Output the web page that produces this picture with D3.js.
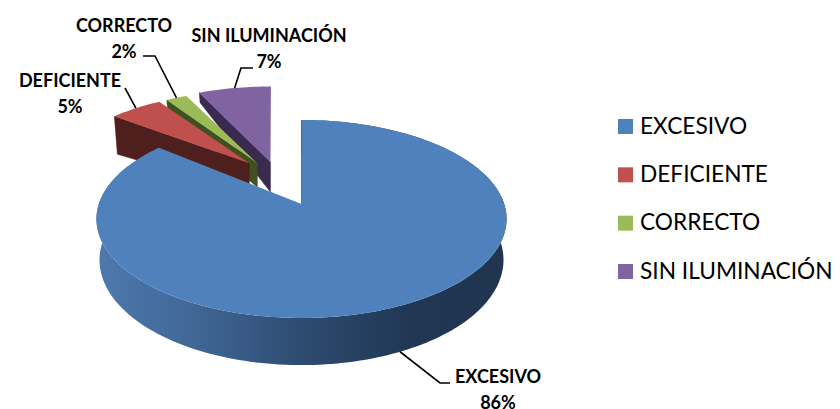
<!DOCTYPE html>
<html>
<head>
<meta charset="utf-8">
<script src="https://cdnjs.cloudflare.com/ajax/libs/d3/7.8.5/d3.min.js"></script>
<style>
html, body { margin: 0; padding: 0; background: #fff; overflow: hidden; }
text { font-family: Lato, "Open Sans", sans-serif; fill: #000; }
</style>
</head>
<body>
<div id="chart"></div>
<script>
var categories = ["EXCESIVO", "DEFICIENTE", "CORRECTO", "SIN ILUMINACIÓN"];
var values = [86, 5, 2, 7];
var colors = ["#4f81bd", "#c0504d", "#9bbb59", "#8064a2"];
var darkColors = ["#1f3550", "#4f1f1e", "#3f5021", "#3a2a50"];

// how far each slice is pulled out, in units of the pie radius
var explodeU = [0, -0.30, -0.258, -0.185];
var explodeV = [0, 0.415, 0.441, 0.49];
// the tips do not follow quite the same offset
var tipU = [0, -0.275, -0.233, -0.164];
var tipV = [0, 0.45, 0.45, 0.465];
// height of the cut wall at the outer corner and at the tip
var cornerDepth = [40, 38, 8, 10];
var tipDepth = [40, 30, 24, 30];

// label centre and leader elbow for each slice
var labelX = [498, 70, 124, 269];
var labelY = [376, 80, 25, 35];
var elbows = [[[440, 383], [450, 383]], [[125, 88]], [[155, 56], [143, 56]], [[241, 68], [253, 68]]];

var width = 840;
var height = 409;

var svg = d3.select("#chart")
	.append("svg")
	.attr("width", width)
	.attr("height", height);

// the pie lies on a tilted plane, so the far side is smaller than the near side
var cx = 301.5;
var cy = 204;
var rx = 202.7;
var ry = 96.7;
var k = 0.1515;
var depth = 40;
var bottomShrink = 0.985;

var project = (u, v) => {
	var w = 1 + k * v;
	return [cx + rx * u / w, cy - ry * v / w];
}

var projectDown = (u, v) => {
	var w = 1 + k * v;
	return [cx + bottomShrink * rx * u / w, cy - ry * v / w + depth / w];
}

var line = d3.line();

var pie = d3.pie().sort(null).value(d => d);
var slices = pie(values);

var rimPoint = (i, a) => project(explodeU[i] + Math.sin(a), explodeV[i] + Math.cos(a));
var rimPointDown = (i, a) => projectDown(explodeU[i] + Math.sin(a), explodeV[i] + Math.cos(a));

var arcAngles = (d) => {
	var steps = Math.max(4, Math.ceil((d.endAngle - d.startAngle) * 40));
	return d3.range(steps + 1).map(s => d.startAngle + (d.endAngle - d.startAngle) * s / steps);
}

var defs = svg.append("defs");
var grad = defs.append("linearGradient")
	.attr("id", "rim")
	.attr("gradientUnits", "userSpaceOnUse")
	.attr("x1", 100).attr("x2", 505).attr("y1", 0).attr("y2", 0);
grad.append("stop").attr("offset", "0%").attr("stop-color", "#4d79ae");
grad.append("stop").attr("offset", "25%").attr("stop-color", "#3f6593");
grad.append("stop").attr("offset", "50%").attr("stop-color", "#2e4b71");
grad.append("stop").attr("offset", "78%").attr("stop-color", "#203652");
grad.append("stop").attr("offset", "100%").attr("stop-color", "#1f3550");

// back slices first, the big one last so it covers them
var order = [3, 2, 1, 0];
var pieG = svg.append("g");

order.forEach(i => {
	var d = slices[i];
	var angles = arcAngles(d);
	var g = pieG.append("g");
	var rimTop = angles.map(a => rimPoint(i, a));
	var tip = project(tipU[i], tipV[i]);
	var corner = rimPoint(i, d.startAngle);

	if (i == 0) {
		var rimBottom = angles.map(a => rimPointDown(i, a)).reverse();
		g.append("path")
			.attr("d", line(rimTop.concat(rimBottom)) + "Z")
			.attr("fill", "url(#rim)");
	}

	g.append("path")
		.attr("d", line([
			corner,
			tip,
			[tip[0], tip[1] + tipDepth[i]],
			[corner[0] + cornerDepth[i] * 0.08, corner[1] + cornerDepth[i]]
		]) + "Z")
		.attr("fill", darkColors[i])
		.attr("stroke", darkColors[i])
		.attr("stroke-width", 0.5);

	g.append("path")
		.attr("d", line([tip].concat(rimTop)) + "Z")
		.attr("fill", colors[i]);
});

// leader lines start on the slice edge at its middle angle
var leaderG = svg.append("g");
slices.forEach((d, i) => {
	var mid = (d.startAngle + d.endAngle) / 2;
	var start = Math.cos(mid) < 0 ? rimPointDown(i, mid) : rimPoint(i, mid);
	leaderG.append("path")
		.attr("d", line([start].concat(elbows[i])))
		.attr("fill", "none")
		.attr("stroke", "#000")
		.attr("stroke-width", 1.6);
});

var labels = svg.append("g")
	.selectAll("text")
	.data(categories)
	.enter()
	.append("text")
	.attr("text-anchor", "middle")
	.attr("font-size", 18)
	.attr("font-weight", 700);

labels.append("tspan")
	.attr("x", (d, i) => labelX[i])
	.attr("y", (d, i) => labelY[i] + 7)
	.text(d => d);

labels.append("tspan")
	.attr("x", (d, i) => labelX[i])
	.attr("y", (d, i) => labelY[i] + 33)
	.text((d, i) => values[i] + "%");

var legendY = d3.scalePoint()
	.domain(categories)
	.range([126.5, 271.5]);

var legend = svg.append("g")
	.selectAll("g")
	.data(categories)
	.enter()
	.append("g")
	.attr("transform", d => "translate(618," + legendY(d) + ")");

legend.append("rect")
	.attr("x", 0)
	.attr("y", -7.5)
	.attr("width", 15)
	.attr("height", 15)
	.attr("fill", (d, i) => colors[i]);

legend.append("text")
	.attr("x", 22)
	.attr("y", 7)
	.attr("font-size", 22.7)
	.text(d => d);
</script>
</body>
</html>
